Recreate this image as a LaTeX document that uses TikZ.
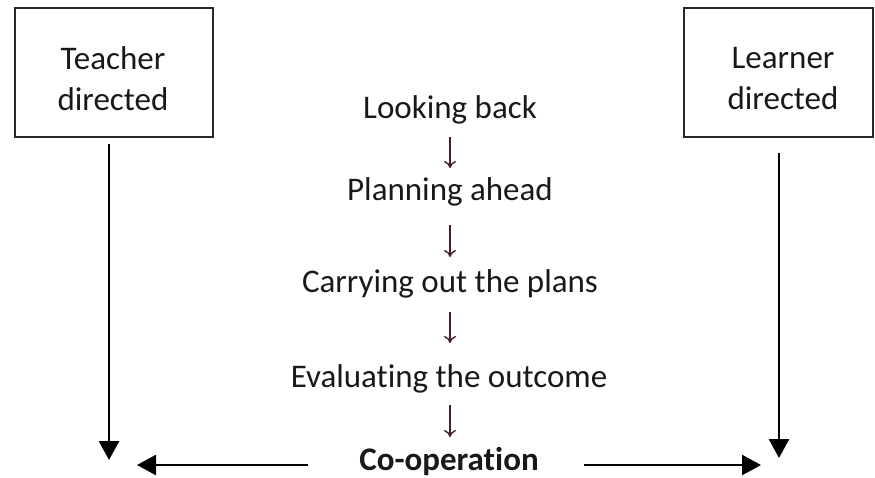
\documentclass[tikz,border=0pt]{standalone}
\usepackage{fontspec}
\setmainfont{Carlito}[Ligatures=NoCommon]
\usetikzlibrary{arrows.meta}
\definecolor{boxline}{RGB}{40,40,40}
\definecolor{smallarrow}{RGB}{70,30,45}
\definecolor{txt}{RGB}{25,25,25}
\begin{document}
\begin{tikzpicture}[x=1pt,y=-1pt,
  box/.style={draw=boxline, line width=2pt, inner sep=0pt},
  label/.style={text=txt, font=\fontsize{33}{41}\selectfont, align=center, inner sep=0pt},
  steptext/.style={text=txt, font=\fontsize{33}{41}\selectfont, anchor=base, inner sep=0pt},
  bigarrow/.style={line width=2.6pt, -{Triangle[length=19pt,width=20pt]}},
  smallarr/.style={draw=smallarrow, line width=1.4pt, -{To[length=7pt,width=12pt,line width=1.4pt]}}
]
\useasboundingbox (0,0) rectangle (875,477);
% boxes
\node[box, minimum width=198pt, minimum height=129pt] (teacher) at (114,72.5) {};
\node[box, minimum width=189pt, minimum height=129pt] (learner) at (778.5,72.5) {};
\node[label, anchor=base] (teachertxt) at (113,110) {Teacher\\directed};
\node[label, anchor=base] (learnertxt) at (783,109) {Learner\\directed};
% central steps
\node[steptext] (s1) at (450,118) {Looking back};
\node[steptext] (s2) at (450,200) {Planning ahead};
\node[steptext] (s3) at (450,292) {Carrying out the plans};
\node[steptext] (s4) at (449,387) {Evaluating the outcome};
\node[steptext, font=\fontsize{33}{41}\selectfont\bfseries] (s5) at (449,470) {Co-operation};
% small arrows
\coordinate (a1s) at (450,137); \coordinate (a1e) at (450,168);
\coordinate (a2s) at (450,225); \coordinate (a2e) at (450,257);
\coordinate (a3s) at (450,312); \coordinate (a3e) at (450,343);
\coordinate (a4s) at (450,405); \coordinate (a4e) at (450,437);
\draw[smallarr] (a1s) -- (a1e);
\draw[smallarr] (a2s) -- (a2e);
\draw[smallarr] (a3s) -- (a3e);
\draw[smallarr] (a4s) -- (a4e);
% big arrows
\coordinate (lt) at (109,144); \coordinate (lb) at (109,460);
\coordinate (rt) at (779,153); \coordinate (rb) at (779,458);
\draw[bigarrow] (lt) -- (lb);
\draw[bigarrow] (rt) -- (rb);
\coordinate (hl0) at (308,465); \coordinate (hl1) at (137,465);
\coordinate (hr0) at (584,465); \coordinate (hr1) at (761,465);
\draw[bigarrow] (hl0) -- (hl1);
\draw[bigarrow] (hr0) -- (hr1);
\end{tikzpicture}
\end{document}
